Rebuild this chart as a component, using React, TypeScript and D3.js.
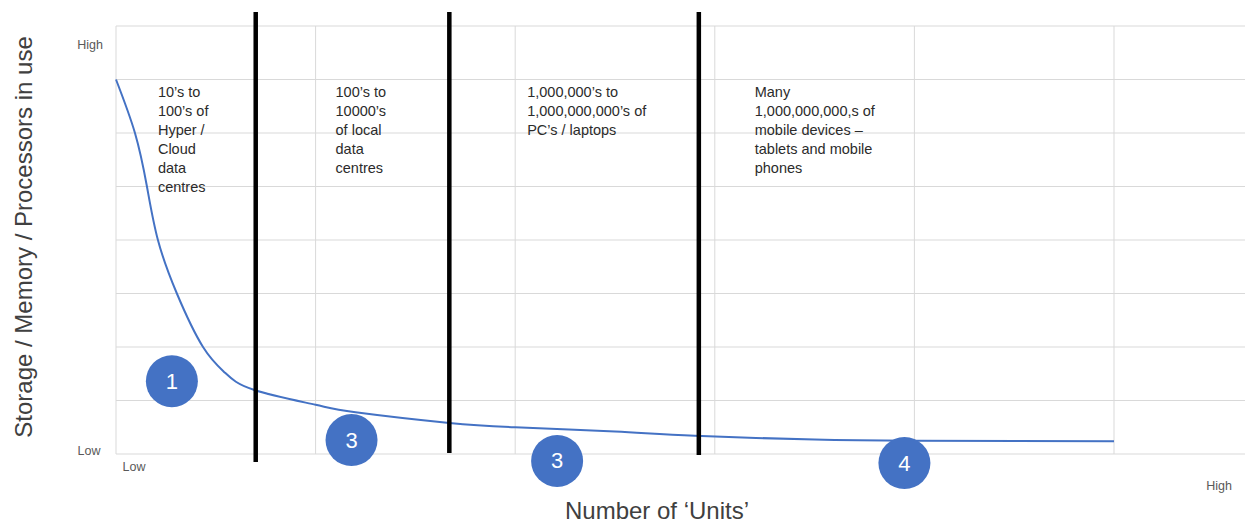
import * as d3 from 'd3'
import { useMemo } from 'react'

const W = 1245
const H = 522
const FONT = "'Liberation Sans', Arial, sans-serif"
const BLUE = '#4472C4'

// curve: number of units (x) vs capacity in use (y)
const curveX = [0, 0.095, 0.155, 0.21, 0.305, 0.436, 0.546, 0.69, 1.0, 1.2, 1.67, 2.0, 2.5, 2.9, 3.5, 4.0, 5.0]
const curveY = [7.0, 6.0, 5.0, 4.0, 3.0, 2.0, 1.52, 1.2, 0.92, 0.78, 0.58, 0.5, 0.42, 0.34, 0.27, 0.25, 0.24]

// thick black dividers between the four regions
const dividerX = [0.7, 1.67, 2.92]
const dividerTop = [8.26, 8.26, 8.26]
const dividerBottom = [-0.15, 0.02, -0.02]

// numbered markers
const markerLabels = ['1', '3', '3', '4']
const markerX = [0.28, 1.18, 2.21, 3.95]
const markerY = [1.36, 0.26, -0.13, -0.17]

// region descriptions
const regionX = [0.21, 1.1, 2.06, 3.2]
const regionTop = 6.77
const regionLines = [
  ['10’s to', '100’s of', 'Hyper /', 'Cloud', 'data', 'centres'],
  ['100’s to', '10000’s', 'of local', 'data', 'centres'],
  ['1,000,000’s to', '1,000,000,000’s of', 'PC’s / laptops'],
  ['Many', '1,000,000,000,s of', 'mobile devices –', 'tablets and mobile', 'phones'],
]

const xGrid = [0, 1, 2, 3, 4, 5, 6]
const yGrid = [0, 1, 2, 3, 4, 5, 6, 7, 8]

export default function App() {
  const x = useMemo(() => d3.scaleLinear().domain([0, 5]).range([116, 1114]), [])
  const y = useMemo(() => d3.scaleLinear().domain([0, 8]).range([454, 26]), [])

  const path = useMemo(() => {
    const pts: [number, number][] = curveX.map((v, i) => [v, curveY[i]])
    return d3.line<[number, number]>()
      .x(d => x(d[0]))
      .y(d => y(d[1]))
      .curve(d3.curveNatural)(pts) || ''
  }, [x, y])

  const lineH = 19

  return (
    <svg width={W} height={H} style={{ position: 'absolute', left: 0, top: 0, background: '#fff' }}>
      {/* grid */}
      <g stroke="#d9d9d9" strokeWidth={1}>
        {yGrid.map(v => (
          <line key={'h' + v} x1={x(0)} x2={x(6)} y1={y(v)} y2={y(v)} />
        ))}
        {xGrid.map(v => (
          <line key={'v' + v} x1={x(v)} x2={x(v)} y1={y(0)} y2={y(8)} />
        ))}
      </g>

      {/* curve */}
      <path d={path} fill="none" stroke={BLUE} strokeWidth={2} />

      {/* dividers */}
      {dividerX.map((v, i) => (
        <line key={'d' + i} x1={x(v)} x2={x(v)} y1={y(dividerTop[i])} y2={y(dividerBottom[i])}
          stroke="#000" strokeWidth={4.5} />
      ))}

      {/* region text */}
      {regionLines.map((lines, i) => (
        <text key={'r' + i} fontFamily={FONT} fontSize={14.5} fill="#2b2b2b">
          {lines.map((t, j) => (
            <tspan key={j} x={x(regionX[i])} y={y(regionTop) + j * lineH} dominantBaseline="central">{t}</tspan>
          ))}
        </text>
      ))}

      {/* markers */}
      {markerLabels.map((t, i) => (
        <g key={'m' + i} transform={`translate(${x(markerX[i])},${y(markerY[i])})`}>
          <circle r={26} fill={BLUE} />
          <text textAnchor="middle" dominantBaseline="central" fill="#fff" fontFamily={FONT} fontSize={22}>{t}</text>
        </g>
      ))}

      {/* axis end labels */}
      <g fontFamily={FONT} fontSize={12.5} fill="#595959">
        <text x={90} y={y(7.65)} textAnchor="middle" dominantBaseline="central">High</text>
        <text x={89} y={y(0.05)} textAnchor="middle" dominantBaseline="central">Low</text>
        <text x={134} y={467} textAnchor="middle" dominantBaseline="central">Low</text>
        <text x={1219} y={486} textAnchor="middle" dominantBaseline="central">High</text>
      </g>

      {/* axis titles */}
      <text transform={`translate(23,237) rotate(-90)`} textAnchor="middle" dominantBaseline="central"
        fontFamily={FONT} fontSize={24} fill="#404040">Storage / Memory / Processors in use</text>
      <text x={657} y={510} textAnchor="middle" dominantBaseline="central"
        fontFamily={FONT} fontSize={24} fill="#404040">Number of ‘Units’</text>
    </svg>
  )
}
